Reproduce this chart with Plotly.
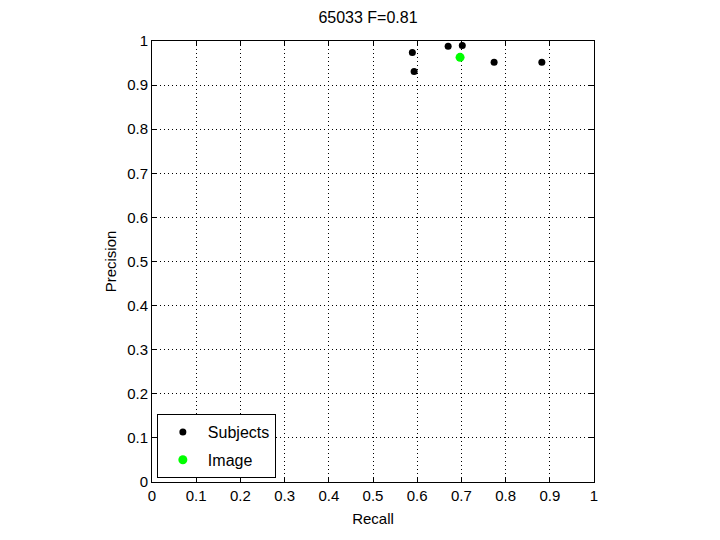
import plotly.graph_objects as go

subj_recall = [0.589, 0.593, 0.670, 0.702, 0.774, 0.882]
subj_precision = [0.974, 0.931, 0.988, 0.990, 0.952, 0.952]
img_recall = [0.697]
img_precision = [0.963]
ticks = [0, 0.1, 0.2, 0.3, 0.4, 0.5, 0.6, 0.7, 0.8, 0.9, 1]
tick_text = ["0", "0.1", "0.2", "0.3", "0.4", "0.5", "0.6", "0.7", "0.8", "0.9", "1"]

FONT = "Liberation Sans, Arial, Helvetica"

fig = go.Figure()
fig.add_trace(go.Scatter(x=subj_recall, y=subj_precision, mode="markers", name="Subjects",
                         legendgroup="a", marker=dict(color="black", size=7)))
fig.add_trace(go.Scatter(x=img_recall, y=img_precision, mode="markers", name="Image",
                         legendgroup="b", marker=dict(color="#00ff00", size=9)))

axis_common = dict(range=[0, 1], tickvals=ticks, ticktext=tick_text, showgrid=True,
                   gridcolor="black", griddash="1px,3px", gridwidth=1, zeroline=False,
                   showline=True, linecolor="black", linewidth=1, mirror="ticks",
                   ticks="inside", ticklen=5, tickcolor="black",
                   tickfont=dict(family=FONT, size=15, color="black"))

fig.update_layout(
    width=720, height=540,
    margin=dict(l=144, r=134, t=33, b=66, autoexpand=False),
    paper_bgcolor="white", plot_bgcolor="white",
    title=dict(text="65033 F=0.81", x=0.5, xanchor="center", y=1, yanchor="top",
               pad=dict(t=4, b=0), automargin=False,
               font=dict(family=FONT, size=16, color="black")),
    xaxis=dict(axis_common, title=dict(text="Recall", standoff=10,
               font=dict(family=FONT, size=15, color="black"))),
    yaxis=dict(axis_common, title=dict(text="Precision", standoff=6,
               font=dict(family=FONT, size=15, color="black"))),
    legend=dict(x=0.011, y=0.009, xanchor="left", yanchor="bottom",
                bordercolor="black", borderwidth=1, bgcolor="white",
                font=dict(family=FONT, size=16, color="black"),
                tracegroupgap=4, itemwidth=40),
    showlegend=True,
)

fig.write_html("out.html")
